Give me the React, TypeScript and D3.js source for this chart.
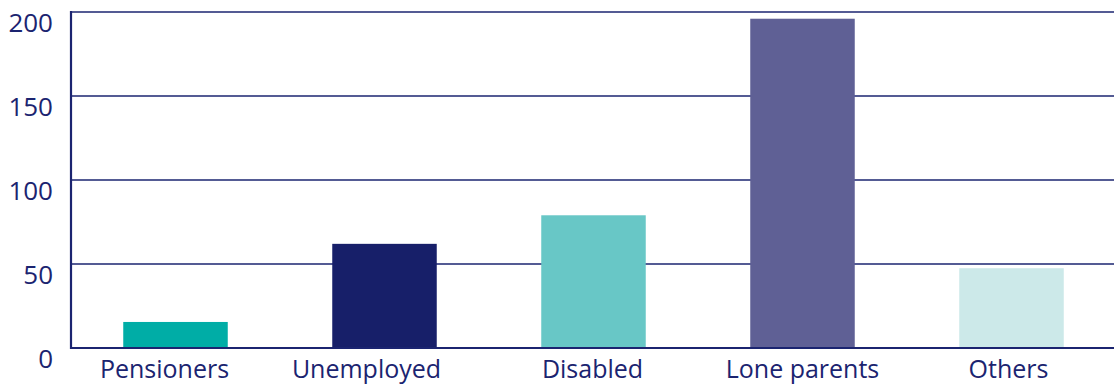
import React from "react";
import * as d3 from "d3";

const categories = ["Pensioners", "Unemployed", "Disabled", "Lone parents", "Others"];
const values = [15.5, 62, 79, 196, 47.5];
const colors = ["#00ADA6", "#171F69", "#68C7C6", "#5F6095", "#CCE9E9"];
const yTicks = [0, 50, 100, 150, 200];

// small horizontal nudges of the category labels, as placed in the original
const labelNudge = [-11, -18, -1, 0, -3];

export default function App() {
  const W = 1114, H = 385;
  const left = 71, right = 1116, top = 12, bottom = 348;
  const x = d3.scaleBand<string>().domain(categories).range([left, right]).paddingInner(0.5).paddingOuter(0.25);
  const y = d3.scaleLinear().domain([0, 200]).range([bottom, top]);
  const ink = "#1B2470";
  const font = "'Open Sans', sans-serif";
  return (
    <svg width={W} height={H} style={{ position: "absolute", left: 0, top: 0 }}>
      <rect width={W} height={H} fill="#fff" />
      {yTicks.filter(t => t > 0).map(t => (
        <line key={t} x1={left} x2={W} y1={y(t)} y2={y(t)} stroke={ink} strokeWidth={1.6} />
      ))}
      {categories.map((c, i) => (
        <rect key={c} x={x(c)} width={x.bandwidth()} y={y(values[i])} height={y(0) - y(values[i])} fill={colors[i]} />
      ))}
      <line x1={left} x2={W} y1={y(0)} y2={y(0)} stroke={ink} strokeWidth={2.2} />
      <line x1={left} x2={left} y1={top - 1} y2={y(0) + 1} stroke={ink} strokeWidth={2.2} />
      {yTicks.map(t => (
        <text key={t} x={53} y={y(t) + 19.5} textAnchor="end" fontFamily={font} fontSize={26} fill={ink}>{t}</text>
      ))}
      {categories.map((c, i) => (
        <text key={c} x={(x(c) as number) + x.bandwidth() / 2 + labelNudge[i]} y={378} textAnchor="middle" fontFamily={font} fontSize={25} fill={ink}>{c}</text>
      ))}
    </svg>
  );
}
